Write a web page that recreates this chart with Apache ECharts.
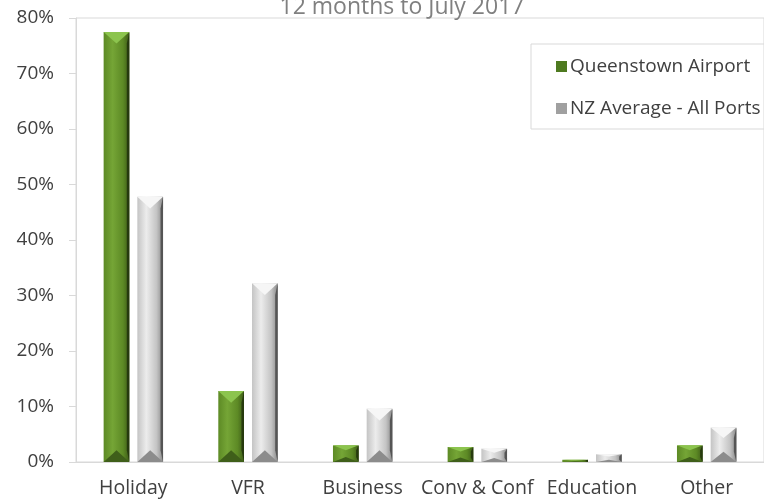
<!DOCTYPE html>
<html><head><meta charset="utf-8">
<script src="https://cdn.jsdelivr.net/npm/echarts@6/dist/echarts.min.js"></script>
<style>html,body{margin:0;padding:0;background:#fff}#c{width:764px;height:504px}</style>
</head><body><div id="c"></div>
<script>
var categories = ['Holiday', 'VFR', 'Business', 'Conv & Conf', 'Education', 'Other'];
var queenstown = [77.5, 12.8, 3.0, 2.7, 0.4, 3.0];
var nzAverage = [47.8, 32.2, 9.6, 2.4, 1.4, 6.2];
var yTicks = [0, 10, 20, 30, 40, 50, 60, 70, 80];
var seriesNames = ['Queenstown Airport', 'NZ Average - All Ports'];

var palettes = [
  {top:'#8cc44e', bodyL:'#5d8a25', bodyM:'#75a536', bodyR:'#3e5c18', right:'#263a0e', bottom:'#3f5f1a', legend:'#4e7a20'},
  {top:'#f6f6f6', bodyL:'#c4c4c4', bodyM:'#ececec', bodyR:'#8a8a8a', right:'#555555', bottom:'#8c8c8c', legend:'#a0a0a0'}
];

function makeRender(si) {
  var p = palettes[si];
  return function (params, api) {
    var idx = api.value(0), val = api.value(1);
    var band = api.size([1, 0])[0];
    var c = api.coord([idx, val]);
    var base = api.coord([idx, 0]);
    var w = band * 0.224;
    var off = band * 0.147 * (si === 0 ? -1 : 1);
    var x0 = c[0] + off - w / 2, x1 = x0 + w;
    var yt = c[1], yb = base[1];
    var h = yb - yt;
    var b = Math.min(w / 2.2, h * 0.3);
    var s = 2.5;
    function poly(pts, fill) { return {type:'polygon', shape:{points:pts}, style:{fill:fill}}; }
    var body = {type:'rect', shape:{x:x0, y:yt, width:w, height:h}, style:{fill:new echarts.graphic.LinearGradient(0,0,1,0,[
      {offset:0, color:p.bodyL},{offset:0.35, color:p.bodyM},{offset:0.75, color:p.bodyL},{offset:1, color:p.bodyR}])}};
    return {type:'group', children:[
      body,
      poly([[x1 - s, yt + b], [x1, yt], [x1, yb], [x1 - s, yb - b]], p.right),
      poly([[x0, yt], [x1, yt], [x0 + w/2, yt + b]], p.top),
      poly([[x0, yb], [x1, yb], [x0 + w/2, yb - b]], p.bottom)
    ]};
  };
}

var chart = echarts.init(document.getElementById('c'));
var font = 'Open Sans';
chart.setOption({
  animation: false,
  textStyle: {fontFamily: font},
  title: {text: '12 months to July 2017', left: 397, textAlign: 'center', top: -9,
    textStyle: {fontFamily: font, fontSize: 23, fontWeight: 'normal', color: '#808080'}},
  grid: {left: 76, right: -10, top: 18, bottom: 42, show: true, borderColor: '#d9d9d9', borderWidth: 1, backgroundColor: 'transparent'},
  legend: {
    orient: 'vertical', left: 531, top: 44, itemWidth: 11, itemHeight: 11, itemGap: 23,
    padding: [13, 40, 11, 25], borderColor: '#d9d9d9', borderWidth: 1,
    textStyle: {fontFamily: font, fontSize: 19, color: '#404040', padding: [0,0,0,-2]},
    data: [
      {name: seriesNames[0], icon: 'rect', itemStyle: {color: palettes[0].legend}},
      {name: seriesNames[1], icon: 'rect', itemStyle: {color: palettes[1].legend}}
    ]
  },
  xAxis: {type: 'category', data: categories,
    axisLine: {lineStyle: {color: '#d9d9d9', width: 1}}, axisTick: {show: false},
    axisLabel: {fontFamily: font, fontSize: 19.5, color: '#404040', margin: 16, interval: 0}},
  yAxis: {type: 'value', min: 0, max: 80, interval: 10,
    axisLine: {show: true, lineStyle: {color: '#d9d9d9'}},
    axisTick: {show: true, length: 7, lineStyle: {color: '#d9d9d9'}},
    splitLine: {show: false},
    axisLabel: {fontFamily: font, fontSize: 19, color: '#404040', margin: 22,
      formatter: function (v) { return yTicks.indexOf(v) >= 0 ? v + '%' : ''; }}},
  series: [
    {name: seriesNames[0], type: 'custom', renderItem: makeRender(0), encode: {x: 0, y: 1},
      itemStyle: {color: palettes[0].legend},
      data: queenstown.map(function (v, i) { return [i, v]; })},
    {name: seriesNames[1], type: 'custom', renderItem: makeRender(1), encode: {x: 0, y: 1},
      itemStyle: {color: palettes[1].legend},
      data: nzAverage.map(function (v, i) { return [i, v]; })}
  ]
});
</script></body></html>
